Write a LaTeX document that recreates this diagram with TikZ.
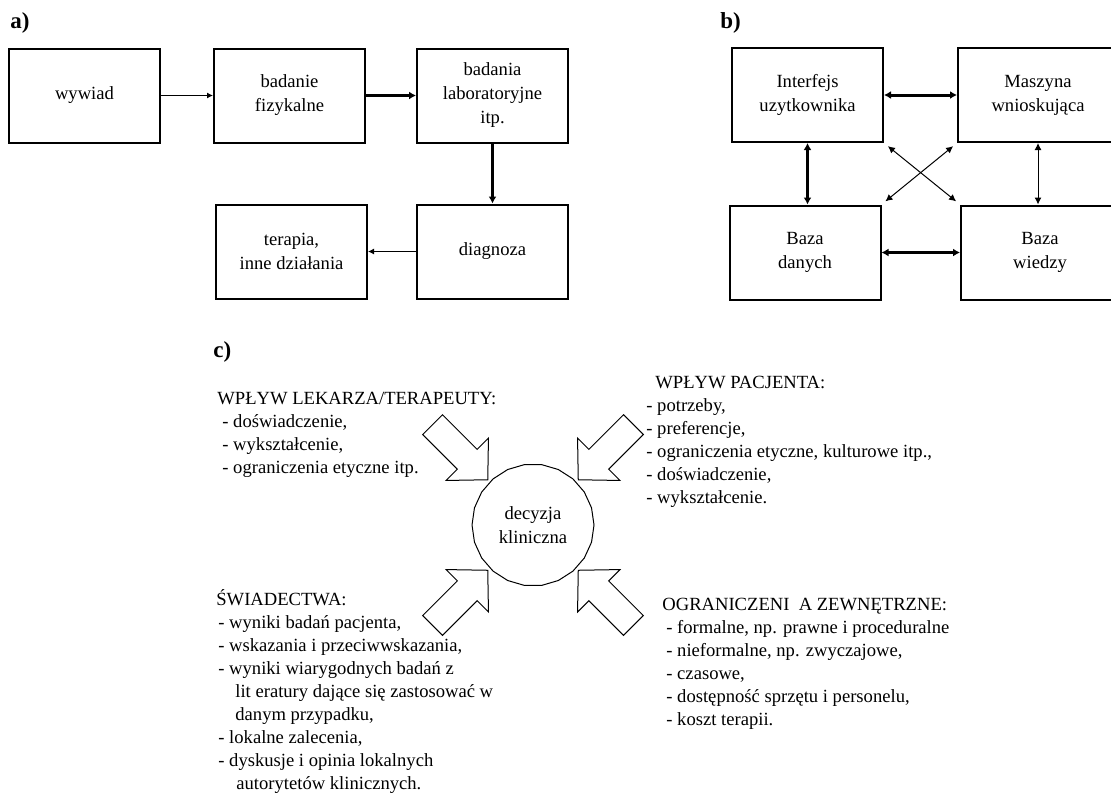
\documentclass[tikz,border=0pt]{standalone}
\usepackage{fontspec}
\setmainfont{Liberation Serif}
\usetikzlibrary{arrows.meta,shapes.geometric}

\tikzset{
  blok/.pic={
    \draw[line width=0.5pt] (64,0) -- (93,30) -- (93,14) -- (142,14) -- (142,-14)
      -- (93,-14) -- (93,-30) -- cycle;
  }
}

\begin{document}
\begin{tikzpicture}[x=0.5pt,y=-0.5pt,
    box/.style={draw, line width=1pt, minimum width=75.5pt, minimum height=47pt,
      inner sep=0pt, align=center, font=\fontsize{9.3}{12}\selectfont},
    cienka/.style={line width=0.5pt, -{Latex[length=3pt,width=3pt]}},
    gruba/.style={line width=1.5pt, -{Latex[length=3.5pt,width=4pt]}},
    gruba2/.style={line width=1.5pt, {Latex[length=3.5pt,width=4pt]}-{Latex[length=3.5pt,width=4pt]}},
    cienka2/.style={line width=0.5pt, {Latex[length=3.5pt,width=3.5pt]}-{Latex[length=3.5pt,width=3.5pt]}},
    opis/.style={inner sep=0pt, align=left, anchor=north west, font=\fontsize{9.3}{11.5}\selectfont},
    litera/.style={inner sep=0pt, anchor=base west, font=\fontsize{11.5}{13}\selectfont\bfseries}]
  \useasboundingbox (0,0) rectangle (1111,805);
  \clip (0,0) rectangle (1111,805);

  % a)
  \node[litera] (la) at (10,28) {a)};
  \node[box] (wywiad) at (84.5,95.5) {wywiad};
  \node[box] (badanie) at (289.5,95.5) {badanie\\fizykalne};
  \node[box] (labor) at (492.5,95.5) {badania\\laboratoryjne\\itp.};
  \node[box] (diagnoza) at (492.5,251.5) {diagnoza};
  \node[box] (terapia) at (291.5,251.5) {terapia,\\inne działania};
  \draw[cienka] (wywiad) -- (badanie);
  \draw[gruba] (badanie) -- (labor);
  \draw[gruba] (labor) -- (diagnoza);
  \draw[cienka] (diagnoza) -- (terapia);

  % b)
  \node[litera] (lb) at (720,28) {b)};
  \node[box] (interfejs) at (807.5,95) {Interfejs\\uzytkownika};
  \node[box, minimum width=80pt] (maszyna) at (1038,95) {Maszyna\\wnioskująca};
  \node[box] (dane) at (805,252.5) {Baza\\danych};
  \node[box, minimum width=79pt] (wiedza) at (1040,252.5) {Baza\\wiedzy};
  \draw[gruba2] (interfejs) -- (maszyna);
  \draw[gruba2] (interfejs.south) -- (interfejs.south |- dane.north);
  \draw[cienka2] (maszyna.south) -- (maszyna.south |- wiedza.north);
  \draw[gruba2] (dane.east) -- (dane.east -| wiedza.west);
  \draw[cienka2, shorten <=2.5pt, shorten >=2.5pt] (interfejs.south east) -- (wiedza.north west);
  \draw[cienka2, shorten <=2.5pt, shorten >=2.5pt] (maszyna.south west) -- (dane.north east);

  % c)
  \node[litera] (lc) at (213,357) {c)};
  \node[draw, line width=0.5pt, regular polygon, regular polygon sides=22,
    minimum size=61pt, inner sep=0pt, align=center,
    font=\fontsize{9.3}{12}\selectfont] (decyzja) at (533,525) {decyzja\\kliniczna};
  \pic[rotate=135] at (decyzja.center) {blok};
  \pic[rotate=45] at (decyzja.center) {blok};
  \pic[rotate=225] at (decyzja.center) {blok};
  \pic[rotate=315] at (decyzja.center) {blok};

  \node[opis] (lekarz) at (217,386) {\rule{0pt}{9pt}WPŁYW LEKARZA/TERAPEUTY:\\
    \hspace{2.5pt}- doświadczenie,\\
    \hspace{2.5pt}- wykształcenie,\\
    \hspace{2.5pt}- ograniczenia etyczne itp.};
  \node[opis] (pacjent) at (646,370) {\rule{0pt}{9pt}\hspace{4.5pt}WPŁYW PACJENTA:\\
    - potrzeby,\\
    - preferencje,\\
    - ograniczenia etyczne, kulturowe itp.,\\
    - doświadczenie,\\
    - wykształcenie.};
  \node[opis] (swiadectwa) at (216,587) {\rule{0pt}{9pt}ŚWIADECTWA:\\
    \hspace{1pt}- wyniki badań pacjenta,\\
    \hspace{1pt}- wskazania i przeciwwskazania,\\
    \hspace{1pt}- wyniki wiarygodnych badań z\\
    \hspace{9.5pt}lit eratury dające się zastosować w\\
    \hspace{9.5pt}danym przypadku,\\
    \hspace{1pt}- lokalne zalecenia,\\
    \hspace{1pt}- dyskusje i opinia lokalnych\\
    \hspace{10pt}autorytetów klinicznych.};
  \node[opis] (ograniczenia) at (662,592) {\rule{0pt}{9pt}OGRANICZENI\ \ A ZEWNĘTRZNE:\\
    \hspace{2pt}- formalne, np. prawne i proceduralne\\
    \hspace{2pt}- nieformalne, np. zwyczajowe,\\
    \hspace{2pt}- czasowe,\\
    \hspace{2pt}- dostępność sprzętu i personelu,\\
    \hspace{2pt}- koszt terapii.};
\end{tikzpicture}
\end{document}
